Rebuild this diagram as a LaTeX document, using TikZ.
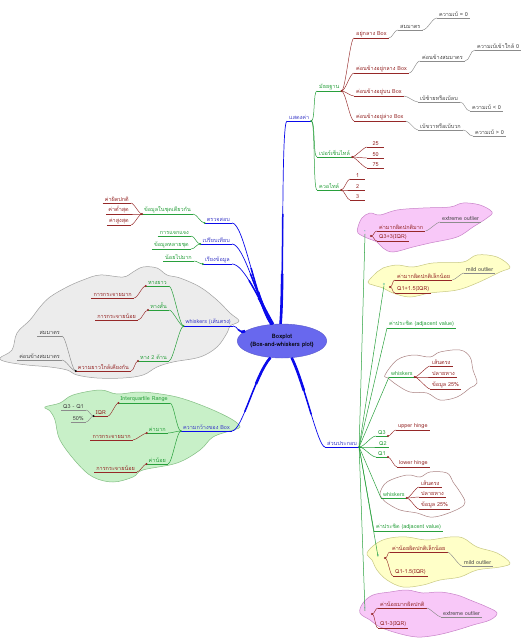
\documentclass[tikz,border=0pt]{standalone}
\usepackage{fontspec}
\setmainfont[Script=Thai]{Loma}
\usetikzlibrary{shapes.geometric}
\definecolor{cblue}{RGB}{60,60,200}
\definecolor{lblue}{RGB}{10,10,235}
\definecolor{cgreen}{RGB}{40,160,60}
\definecolor{cred}{RGB}{150,40,40}
\definecolor{cgray}{RGB}{70,70,70}
\definecolor{ugray}{RGB}{140,140,140}
\definecolor{ellfill}{RGB}{104,104,238}
\definecolor{grayfill}{RGB}{236,236,236}
\definecolor{graydraw}{RGB}{160,160,160}
\definecolor{gcfill}{RGB}{200,240,200}
\definecolor{gcdraw}{RGB}{130,190,130}
\definecolor{pkfill}{RGB}{248,200,248}
\definecolor{pkdraw}{RGB}{200,130,200}
\definecolor{ywfill}{RGB}{255,255,200}
\definecolor{ywdraw}{RGB}{200,200,130}
\definecolor{wdraw}{RGB}{170,130,130}
\definecolor{mkcol}{RGB}{40,170,140}
\newcommand\fsz{\fontsize{5.5pt}{6.5pt}\selectfont}
\newcommand\cnR[4][6]{\draw[#2] (#3) .. controls +(#1,0) and +(-#1,0) .. (#4);}
\newcommand\cnL[4][6]{\draw[#2] (#3) .. controls +(-#1,0) and +(#1,0) .. (#4);}
\newcommand\dotat[2]{\fill[#1] (#2) circle (1.1pt);}
\newcommand\tpr[3]{\draw[eb,line width=0.7pt] #3; \draw[eb,line width=1.5pt,dash pattern=on #1 off 3000pt] #3; \draw[eb,line width=2.6pt,dash pattern=on #2 off 3000pt] #3;}
\tikzset{
  tn/.style={inner xsep=2pt, inner ysep=1.2pt, font=\fsz},
  ul/.style={append after command={(\tikzlastnode.south west) edge[draw=#1,line width=0.45pt] (\tikzlastnode.south east)}},
  nR/.style={tn, anchor=south west},
  nL/.style={tn, anchor=south east},
  bR/.style={nR, text=cblue, ul=lblue}, bL/.style={nL, text=cblue, ul=lblue},
  gR/.style={nR, text=cgreen, ul=cgreen}, gL/.style={nL, text=cgreen, ul=cgreen},
  rR/.style={nR, text=cred, ul=cred}, rL/.style={nL, text=cred, ul=cred},
  kR/.style={nR, text=cgray, ul=ugray}, kL/.style={nL, text=cgray, ul=ugray},
  mk/.style={font=\fontsize{4pt}{4pt}\selectfont, text=mkcol, inner sep=0.3pt},
  eb/.style={draw=lblue},
  eg/.style={draw=cgreen, line width=0.5pt},
  er/.style={draw=cred, line width=0.45pt},
  ek/.style={draw=ugray, line width=0.45pt},
}
\begin{document}
\begin{tikzpicture}[x=1pt,y=-1pt]
\useasboundingbox (0,0) rectangle (527,640);
\fill[white] (0,0) rectangle (527,640);
% ---- clouds
\filldraw[fill=grayfill, draw=graydraw, line width=0.5pt] plot[smooth cycle, tension=0.6] coordinates {(0,358) (12,350) (17,333) (30,320) (40,307) (50,297) (67,287) (83,280) (100,275) (123,277) (133,272) (143,267) (157,268) (167,275) (180,278) (200,287) (217,300) (230,313) (239,321) (230,326) (227,333) (217,347) (200,357) (173,362) (157,367) (143,375) (123,378) (97,378) (77,375) (67,370) (50,367) (27,365) (7,362)};
\filldraw[fill=gcfill, draw=gcdraw, line width=0.5pt] plot[smooth cycle, tension=0.6] coordinates {(45,407) (60,403) (73,395) (100,390) (117,394) (140,392) (167,395) (187,400) (213,410) (233,420) (240,427) (233,430) (213,437) (200,450) (177,463) (143,470) (133,477) (113,482) (93,477) (77,463) (60,440) (55,420) (50,411)};
\filldraw[fill=pkfill, draw=pkdraw, line width=0.5pt] plot[smooth cycle, tension=0.6] coordinates {(358,227) (362,218) (370,213) (380,215) (397,210) (423,208) (450,207) (463,203) (480,205) (492,212) (487,218) (473,227) (457,237) (430,243) (413,247) (393,252) (383,248) (377,242) (367,238) (358,233)};
\filldraw[fill=ywfill, draw=ywdraw, line width=0.5pt] plot[smooth cycle, tension=0.6] coordinates {(368,282) (377,272) (383,268) (397,265) (413,267) (433,263) (463,262) (477,255) (497,257) (510,267) (500,272) (477,283) (457,290) (430,293) (410,297) (393,293) (383,288) (373,285)};
\draw[draw=wdraw, line width=0.5pt] plot[smooth cycle, tension=0.6] coordinates {(385,375) (397,360) (413,355) (430,357) (440,352) (460,350) (470,357) (473,370) (477,383) (470,388) (457,397) (440,400) (427,393) (410,392) (397,385) (388,378)};
\draw[draw=wdraw, line width=0.5pt] plot[smooth cycle, tension=0.6] coordinates {(380,493) (387,482) (407,475) (420,477) (430,472) (447,473) (453,482) (460,492) (465,502) (460,508) (443,515) (430,517) (417,513) (400,510) (387,503) (382,498)};
\filldraw[fill=ywfill, draw=ywdraw, line width=0.5pt] plot[smooth cycle, tension=0.6] coordinates {(367,553) (377,543) (390,538) (407,537) (427,540) (450,537) (463,538) (477,547) (497,553) (510,563) (500,567) (477,570) (460,577) (440,580) (423,585) (403,587) (387,580) (377,570) (372,560)};
\filldraw[fill=pkfill, draw=pkdraw, line width=0.5pt] plot[smooth cycle, tension=0.6] coordinates {(360,613) (363,603) (373,595) (390,592) (407,590) (423,593) (440,592) (457,595) (470,600) (487,607) (497,613) (490,620) (473,625) (457,630) (437,635) (417,637) (397,633) (380,627) (370,620)};
% ---- centre
\node[ellipse, fill=ellfill, draw=ellfill!85!black, minimum width=80pt, minimum height=34pt, inner sep=0pt, align=center, font=\fontsize{6pt}{7.5pt}\selectfont\bfseries] (ctr) at (282,341) {Boxplot\\(Box-and-whiskers plot)};
% ---- upper right
\node[bR] (show) at (287,121) {แสดงค่า};
\node[gR] (med) at (317,91) {มัธยฐาน};
\node[gR] (pct) at (317,157) {เปอร์เซ็นไทล์};
\node[gR] (qrt) at (317,190) {ควอไทล์};
\node[rR] (m1) at (354,38) {อยู่กลาง Box};
\node[rR] (m2) at (354,73) {ค่อนข้างอยู่กลาง Box};
\node[rR] (m3) at (354,96) {ค่อนข้างอยู่บน Box};
\node[rR] (m4) at (354,121) {ค่อนข้างอยู่ล่าง Box};
\node[kR] (s1) at (398,30) {สมมาตร};
\node[kR] (s1a) at (437,18) {ความเบ้ = 0};
\node[kR] (s2) at (420,61) {ค่อนข้างสมมาตร};
\node[kR] (s2a) at (475,50) {ความเบ้เข้าใกล้ 0};
\node[kR] (s3) at (418,102) {เบ้ซ้ายหรือเบ้ลบ};
\node[kR] (s3a) at (470,111) {ความเบ้ < 0};
\node[kR] (s4) at (418,130) {เบ้ขวาหรือเบ้บวก};
\node[kR] (s4a) at (473,136) {ความเบ้ > 0};
\node[rR, minimum width=17pt] (p25) at (367,147) {25};
\node[rR, minimum width=17pt] (p50) at (367,158) {50};
\node[rR, minimum width=17pt] (p75) at (367,168) {75};
\node[rR, minimum width=15pt] (q1) at (350,179) {1};
\node[rR, minimum width=15pt] (q2) at (350,190) {2};
\node[rR, minimum width=15pt] (q3) at (350,200) {3};
\cnR[4]{eg}{show.south east}{med.south west}
\cnR[4]{eg}{show.south east}{pct.south west}
\cnR[4]{eg}{show.south east}{qrt.south west}
\foreach \c in {m1,m2,m3,m4} {\cnR[4]{er}{med.south east}{\c.south west}}
\cnR[4]{ek}{m1.south east}{s1.south west}
\cnR[5]{ek}{s1.south east}{s1a.south west}
\cnR[4]{ek}{m2.south east}{s2.south west}
\cnR[5]{ek}{s2.south east}{s2a.south west}
\cnR[4]{ek}{m3.south east}{s3.south west}
\cnR[5]{ek}{s3.south east}{s3a.south west}
\cnR[4]{ek}{m4.south east}{s4.south west}
\cnR[5]{ek}{s4.south east}{s4a.south west}
\foreach \c in {p25,p50,p75} {\cnR[3]{er}{pct.south east}{\c.south west}}
\foreach \c in {q1,q2,q3} {\cnR[3]{er}{qrt.south east}{\c.south west}}
\dotat{cgreen}{show.south east}
\dotat{cred}{med.south east}
\dotat{cred}{pct.south east}
\dotat{cred}{qrt.south east}
% ---- left upper
\node[bL] (chk) at (232,223) {ตรวจสอบ};
\node[bL] (cmp) at (232,244) {เปรียบเทียบ};
\node[bL] (srt) at (232,264) {เรียงข้อมูล};
\node[gL] (same) at (193,214) {ข้อมูลในชุดเดียวกัน};
\node[rL] (out) at (131,203) {ค่าผิดปกติ};
\node[rL] (mn) at (131,214) {ค่าต่ำสุด};
\node[rL] (mx) at (131,225) {ค่าสูงสุด};
\node[gL] (dist) at (191,236) {การแจกแจง};
\node[gL] (multi) at (191,249) {ข้อมูลหลายชุด};
\node[gL] (asc) at (194,261) {น้อยไปมาก};
\cnL[4]{eg}{chk.south west}{same.south east}
\foreach \c in {out,mn,mx} {\cnL[3]{er}{same.south west}{\c.south east}}
\cnL[4]{eg}{cmp.south west}{dist.south east}
\cnL[4]{eg}{cmp.south west}{multi.south east}
\cnL[3]{eg}{srt.south west}{asc.south east}
\dotat{cgreen}{chk.south west}
\dotat{cred}{same.south west}
\dotat{cgreen}{cmp.south west}
\dotat{cgreen}{srt.south west}
% ---- gray cloud
\node[bL] (wsk) at (233,326) {whiskers (เส้นตรง)};
\node[gL] (long) at (169,286) {หางยาว};
\node[gL] (short) at (169,310) {หางสั้น};
\node[gL] (two) at (169,361) {หาง 2 ด้าน};
\node[rL] (lsp) at (134,298) {การกระจายมาก};
\node[rL] (ssp) at (138,320) {การกระจายน้อย};
\node[rL] (near) at (131,371) {ความยาวใกล้เคียงกัน};
\node[kL] (sym) at (62,336) {สมมาตร};
\node[kL] (nsym) at (62,360) {ค่อนข้างสมมาตร};
\foreach \c in {long,short,two} {\cnL[4]{eg}{wsk.south west}{\c.south east}}
\cnL[4]{er}{long.south west}{lsp.south east}
\cnL[4]{er}{short.south west}{ssp.south east}
\cnL[3]{er}{two.south west}{near.south east}
\cnL[4]{ek}{near.south west}{sym.south east}
\cnL[4]{ek}{near.south west}{nsym.south east}
\dotat{cgreen}{wsk.south west}
\dotat{cred}{long.south west}
\dotat{cred}{short.south west}
\dotat{cred}{two.south west}
\dotat{black}{near.south west}
% ---- green cloud
\node[bL] (wid) at (232,431) {ความกว้างของ Box};
\node[gL] (iqrr) at (170,403) {Interquartile Range};
\node[gL] (big) at (168,433) {ค่ามาก};
\node[gL] (small) at (168,464) {ค่าน้อย};
\node[rL] (iqr) at (108,416) {IQR};
\node[kL] (q31) at (86,410) {Q3 - Q1};
\node[kL] (p50b) at (86,422) {50\%};
\node[rL] (bsp) at (133,440) {การกระจายมาก};
\node[rL] (ssp2) at (137,472) {การกระจายน้อย};
\foreach \c in {iqrr,big,small} {\cnL[4]{eg}{wid.south west}{\c.south east}}
\cnL[3]{er}{iqrr.south west}{iqr.south east}
\cnL[3]{ek}{iqr.south west}{q31.south east}
\cnL[3]{ek}{iqr.south west}{p50b.south east}
\cnL[3]{er}{big.south west}{bsp.south east}
\cnL[3]{er}{small.south west}{ssp2.south east}
\dotat{cgreen}{wid.south west}
\dotat{cred}{iqrr.south west}
\dotat{black}{iqr.south west}
\dotat{cred}{big.south west}
\dotat{cred}{small.south west}
% ---- right lower
\node[bR] (comp) at (325,447) {ส่วนประกอบ};
\node[mk] (mk1) at (365,232) {*};
\coordinate (rd1) at (371,236);
\node[rR] (e1) at (377,231) {ค่ามากผิดปกติมาก};
\node[rR] (e1q) at (377,241) {Q3+3(IQR)};
\node[kR] (e1o) at (440,222) {extreme outlier};
\node[mk] (mk2) at (384,284) {o};
\coordinate (rd2) at (390,287);
\node[rR] (y1) at (395,280) {ค่ามากผิดปกติเล็กน้อย};
\node[rR] (y1q) at (395,293) {Q1+1.5(IQR)};
\node[kR] (y1o) at (464,273) {mild outlier};
\node[gR] (adj1) at (387,328) {ค่าประชิด (adjacent value)};
\node[gR] (w1) at (389,377) {whiskers};
\node[rR] (w1a) at (430,366) {เส้นตรง};
\node[rR] (w1b) at (430,377) {ปลายหาง};
\node[rR] (w1c) at (430,389) {ข้อมูล 25\%};
\node[gR] (Q3n) at (376,436) {Q3};
\node[rR] (uh) at (396,430) {upper hinge};
\node[gR] (Q2n) at (377,447) {Q2};
\node[gR] (Q1n) at (376,457) {Q1};
\node[rR] (lh) at (397,467) {lower hinge};
\node[gR] (w2) at (381,498) {whiskers};
\node[rR] (w2a) at (419,487) {เส้นตรง};
\node[rR] (w2b) at (419,497) {ปลายหาง};
\node[rR] (w2c) at (419,509) {ข้อมูล 25\%};
\node[gR] (adj2) at (374,531) {ค่าประชิด (adjacent value)};
\node[mk] (mk3) at (378,555) {o};
\coordinate (rd3) at (385,558);
\node[rR] (y2) at (390,552) {ค่าน้อยผิดปกติเล็กน้อย};
\node[rR] (y2q) at (393,576) {Q1-1.5(IQR)};
\node[kR] (y2o) at (462,566) {mild outlier};
\node[mk] (mk4) at (365,609) {*};
\coordinate (rd4) at (372,614);
\node[rR] (e2) at (378,608) {ค่าน้อยมากผิดปกติ};
\node[rR] (e2q) at (378,628) {Q1-3(IQR)};
\node[kR] (e2o) at (441,617) {extreme outlier};
\foreach \c in {mk1,mk2,mk3,mk4} {\draw[eg] (comp.south east) -- (\c.south);}
\foreach \c in {adj1,w1,w2,adj2} {\draw[eg] (comp.south east) -- (\c.south west);}
\foreach \c in {Q3n,Q2n,Q1n} {\cnR[5]{eg}{comp.south east}{\c.south west}}
\cnR[3]{er}{rd1}{e1.south west}
\cnR[3]{er}{rd1}{e1q.south west}
\cnR[3]{ek}{e1.south east}{e1o.south west}
\cnR[3]{er}{rd2}{y1.south west}
\cnR[3]{er}{rd2}{y1q.south west}
\cnR[3]{ek}{y1.south east}{y1o.south west}
\foreach \c in {w1a,w1b,w1c} {\cnR[3]{er}{w1.south east}{\c.south west}}
\cnR[3]{er}{Q3n.south east}{uh.south west}
\cnR[3]{er}{Q1n.south east}{lh.south west}
\foreach \c in {w2a,w2b,w2c} {\cnR[3]{er}{w2.south east}{\c.south west}}
\cnR[3]{er}{rd3}{y2.south west}
\cnR[3]{er}{rd3}{y2q.south west}
\cnR[3]{ek}{y2.south east}{y2o.south west}
\cnR[3]{er}{rd4}{e2.south west}
\cnR[3]{er}{rd4}{e2q.south west}
\cnR[3]{ek}{e2.south east}{e2o.south west}
\dotat{cgreen}{comp.south east}
\dotat{cred}{rd1}
\dotat{cred}{rd2}
\dotat{cred}{rd3}
\dotat{cred}{rd4}
\dotat{cred}{w1.south east}
\dotat{cred}{w2.south east}
\dotat{cred}{Q3n.south east}
\dotat{cred}{Q1n.south east}
% ---- blue main branches
\tpr{110pt}{50pt}{(ctr.95) .. controls (284,290) and (281,121) .. (show.south west)}
\tpr{60pt}{35pt}{(ctr.122) .. controls (255,300) and (244,223) .. (chk.south east)}
\tpr{55pt}{32pt}{(ctr.120) .. controls (257,300) and (244,244) .. (cmp.south east)}
\tpr{50pt}{30pt}{(ctr.118) .. controls (259,300) and (244,264) .. (srt.south east)}
\tpr{8pt}{4pt}{(ctr.165) .. controls (238,334) and (238,326) .. (wsk.south east)}
\tpr{60pt}{30pt}{(ctr.235) .. controls (255,375) and (242,431) .. (wid.south east)}
\tpr{60pt}{35pt}{(ctr.300) .. controls (305,385) and (318,447) .. (comp.south west)}
\end{tikzpicture}
\end{document}
